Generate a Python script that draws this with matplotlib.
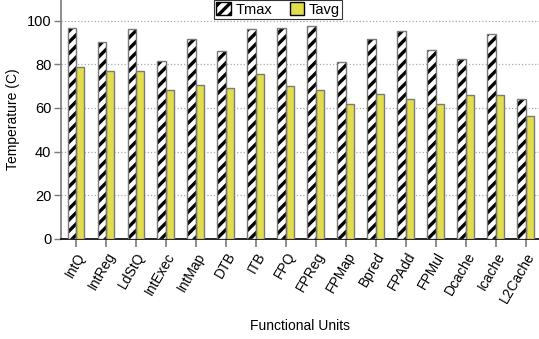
import numpy as np
import matplotlib
matplotlib.use("Agg")
import matplotlib.pyplot as plt
from matplotlib.patches import Patch

units = ["IntQ", "IntReg", "LdStQ", "IntExec", "IntMap", "DTB", "ITB", "FPQ",
         "FPReg", "FPMap", "Bpred", "FPAdd", "FPMul", "Dcache", "Icache", "L2Cache"]
tmax = [96.5, 90.1, 96.2, 81.5, 91.7, 86.2, 96.2, 96.6,
        97.6, 80.9, 91.7, 95.3, 86.5, 82.3, 93.7, 64.2]
tavg = [78.9, 76.9, 76.9, 68.2, 70.6, 69.1, 75.7, 70.2,
        68.0, 61.6, 66.4, 64.2, 61.9, 65.9, 65.7, 56.1]

plt.rcParams["font.family"] = ["Liberation Sans", "DejaVu Sans"]
plt.rcParams["font.size"] = 9.5
plt.rcParams["hatch.linewidth"] = 2.4

yellow = "#e2dd4c"
edge = "#7a7a7a"
w = 0.28

fig = plt.figure(figsize=(5.39, 3.39), dpi=100)
ax = fig.add_axes([61 / 539, 1 - 238.7 / 339, 1 - 61 / 539, 238.7 / 339])

x = np.arange(len(units))
# hatched Tmax bars, gray outline drawn on top
ax.bar(x - w / 2, tmax, w, color="white", edgecolor="black", hatch="///", linewidth=0, zorder=3)
ax.bar(x - w / 2, tmax, w, fill=False, edgecolor=edge, linewidth=1.0, zorder=4)
ax.bar(x + w / 2, tavg, w, color=yellow, edgecolor=edge, linewidth=1.0, zorder=3)

ax.set_xlim(-0.5, 15.45)
ax.set_ylim(0, 109.5)
ax.set_yticks([0, 20, 40, 60, 80, 100])
ax.yaxis.grid(True, linestyle=":", color="#aaaaaa", linewidth=0.9)
ax.set_axisbelow(True)

ax.set_xticks(x)
ax.set_xticklabels(units, rotation=60, ha="right", rotation_mode="anchor", fontsize=10)
ax.tick_params(axis="y", labelsize=10.5)
ax.tick_params(axis="x", length=6, color=edge, width=1.2, pad=2)
ax.tick_params(axis="y", length=5, color=edge, width=1.0, pad=2)

for s in ["top", "right"]:
    ax.spines[s].set_visible(False)
ax.spines["left"].set_color(edge)
ax.spines["left"].set_linewidth(1.2)
ax.spines["bottom"].set_color("black")
ax.spines["bottom"].set_linewidth(1.2)

ax.set_ylabel("Temperature (C)", labelpad=5, fontsize=10)
ax.set_xlabel("Functional Units", labelpad=10, fontsize=10)

handles = [Patch(facecolor="white", edgecolor="black", hatch="///", label="Tmax"),
           Patch(facecolor=yellow, edgecolor="black", label="Tavg")]
leg = fig.legend(handles=handles, loc="upper center", bbox_to_anchor=(278 / 539, 1.0), ncol=2,
                 frameon=True, fancybox=False, edgecolor="black", handlelength=1.0,
                 handleheight=1.0, handletextpad=0.3, columnspacing=1.2,
                 borderpad=0.15, borderaxespad=0.0, fontsize=10.5)
leg.get_frame().set_linewidth(0.8)

fig.savefig("out.png", dpi=100)
